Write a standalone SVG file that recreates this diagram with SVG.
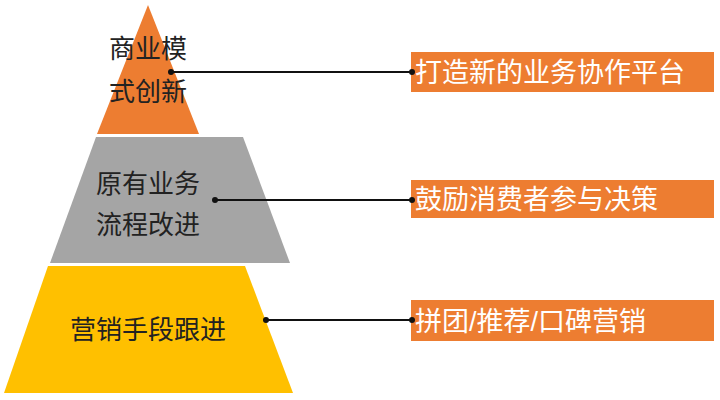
<svg xmlns="http://www.w3.org/2000/svg" width="720" height="400" viewBox="0 0 720 400">
<style>
.t{font-family:"Liberation Sans","Noto Sans CJK SC",sans-serif;font-size:26px;fill:#222}
.b{font-family:"Liberation Sans","Noto Sans CJK SC",sans-serif;font-size:27px;fill:#fff}
.box{fill:#ED7D31}
.ln{stroke:#111;stroke-width:2}
.dot{fill:#111}
</style>
<rect width="720" height="400" fill="#fff"/>
<g id="top"><polygon points="148,5 199,134 97,134" fill="#ED7D31"/>
<text class="t" x="148" y="58" text-anchor="middle">商业模</text>
<text class="t" x="148" y="101" text-anchor="middle">式创新</text></g>
<g id="mid"><polygon points="96,137 243,137 290,263 50,263" fill="#A5A5A5"/>
<text class="t" x="148" y="193" text-anchor="middle">原有业务</text>
<text class="t" x="148" y="234" text-anchor="middle">流程改进</text></g>
<g id="bot"><polygon points="48,266 245,266 293,393 4,393" fill="#FFC000"/>
<text class="t" x="148" y="339" text-anchor="middle">营销手段跟进</text></g>
<g id="box1"><rect class="box" x="411" y="52" width="303" height="40"/><text class="b" x="415" y="82">打造新的业务协作平台</text></g>
<g id="box2"><rect class="box" x="411" y="180" width="303" height="38"/><text class="b" x="415" y="209">鼓励消费者参与决策</text></g>
<g id="box3"><rect class="box" x="411" y="300" width="303" height="41"/><text class="b" x="415" y="331">拼团/推荐/口碑营销</text></g>
<g id="connectors">
<line class="ln" x1="171" y1="72" x2="412" y2="72"/><circle class="dot" cx="171" cy="72" r="3"/><circle class="dot" cx="412" cy="72" r="3"/>
<line class="ln" x1="215" y1="200" x2="412" y2="200"/><circle class="dot" cx="215" cy="200" r="3"/><circle class="dot" cx="412" cy="200" r="3"/>
<line class="ln" x1="266" y1="320" x2="412" y2="320"/><circle class="dot" cx="266" cy="320" r="3"/><circle class="dot" cx="412" cy="320" r="3"/>
</g>
</svg>
